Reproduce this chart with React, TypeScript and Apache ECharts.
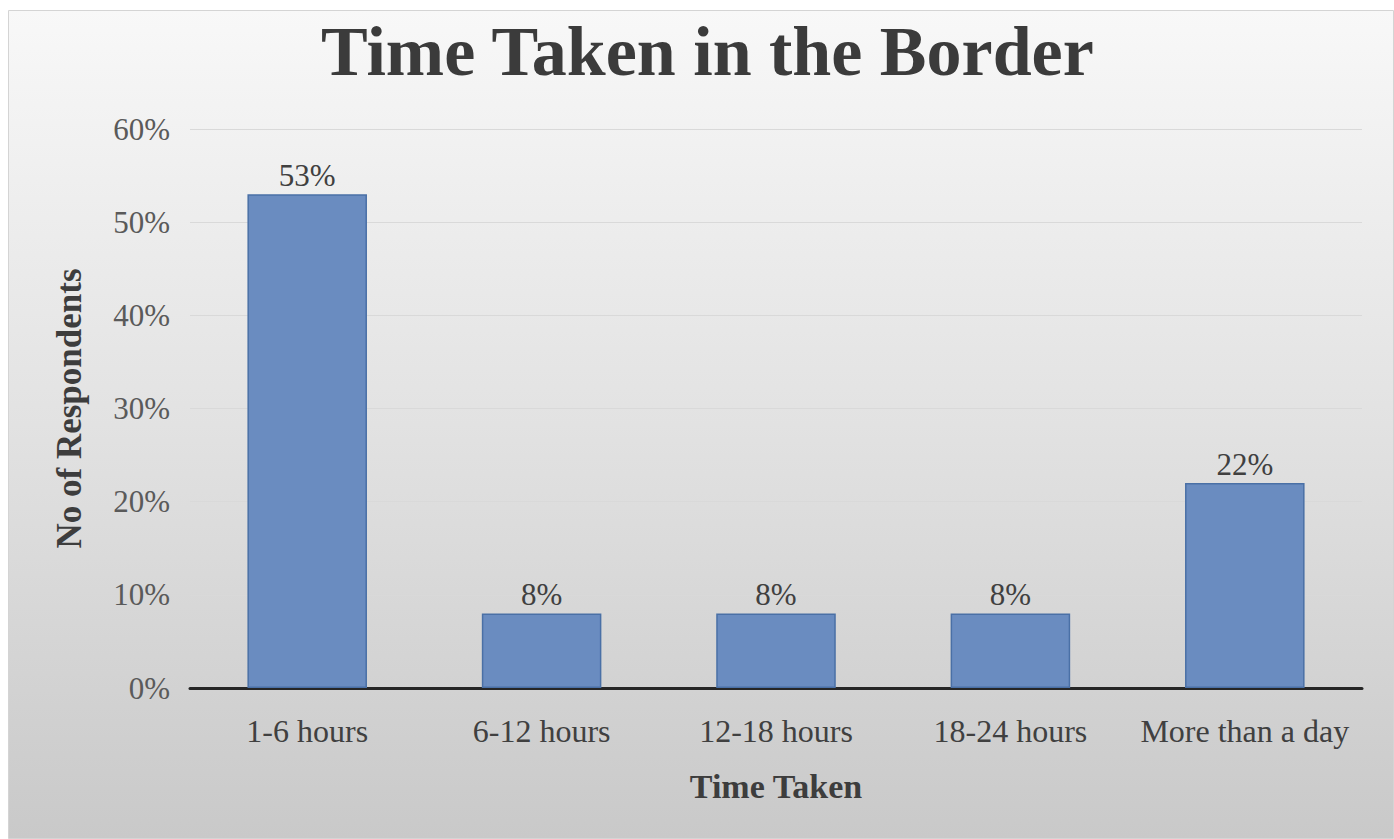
import React, { useEffect, useRef } from "react";
import * as echarts from "echarts";

// Share of respondents by time spent at the border
const categories = ["1-6 hours", "6-12 hours", "12-18 hours", "18-24 hours", "More than a day"];
const shares = [53, 8, 8, 8, 22];
const yTicks = { min: 0, max: 60, interval: 10 };

const SERIF = "'Liberation Serif', 'Times New Roman', serif";

export default function App() {
  const ref = useRef<HTMLDivElement>(null);

  useEffect(() => {
    document.body.style.margin = "0";
    if (!ref.current) return;
    const chart = echarts.init(ref.current, null, { renderer: "svg" });
    chart.setOption({
      animation: false,
      graphic: [
        {
          type: "rect",
          z: -10,
          silent: true,
          shape: { x: 8.5, y: 10.5, width: 1385, height: 828 },
          style: {
            fill: new echarts.graphic.LinearGradient(0, 0, 0, 1, [
              { offset: 0, color: "#f8f8f8" },
              { offset: 0.5, color: "#e2e2e2" },
              { offset: 1, color: "#c9c9c9" },
            ]),
            stroke: "#d4d4d4",
            lineWidth: 1,
          },
        },
      ],
      title: {
        text: "Time Taken in the Border",
        left: 316,
        top: 11,
        textStyle: {
          fontFamily: SERIF,
          fontWeight: "bold",
          fontSize: 70,
          color: "#3b3b3b",
        },
      },
      grid: { left: 190, right: 32, top: 129, bottom: 151, containLabel: false },
      xAxis: {
        type: "category",
        data: categories,
        name: "Time Taken",
        nameLocation: "middle",
        nameGap: 81,
        nameTextStyle: { fontFamily: SERIF, fontWeight: "bold", fontSize: 34, color: "#3d3d3d" },
        axisLine: { show: true, lineStyle: { color: "#262626", width: 3 } },
        axisTick: { show: false },
        axisLabel: {
          interval: 0,
          hideOverlap: false,
          fontFamily: SERIF,
          fontSize: 32,
          color: "#404040",
          margin: 27,
        },
      },
      yAxis: {
        type: "value",
        min: yTicks.min,
        max: yTicks.max,
        interval: yTicks.interval,
        name: "No of Respondents",
        nameLocation: "middle",
        nameGap: 103,
        nameRotate: 90,
        nameTextStyle: { fontFamily: SERIF, fontWeight: "bold", fontSize: 35, color: "#3d3d3d" },
        axisLine: { show: false },
        axisTick: { show: false },
        axisLabel: {
          fontFamily: SERIF,
          fontSize: 31,
          color: "#5a5a5a",
          margin: 20,
          formatter: "{value}%",
        },
        splitLine: { lineStyle: { color: "#d9d9d9", width: 1 } },
      },
      series: [
        {
          type: "bar",
          data: shares,
          barWidth: "51%",
          itemStyle: { color: "#6a8cc0", borderColor: "#4a70a6", borderWidth: 1.5 },
          label: {
            show: true,
            position: "top",
            distance: 3,
            formatter: "{c}%",
            fontFamily: SERIF,
            fontSize: 31,
            color: "#404040",
          },
        },
      ],
    });
    return () => chart.dispose();
  }, []);

  return <div ref={ref} style={{ width: 1394, height: 839 }} />;
}
